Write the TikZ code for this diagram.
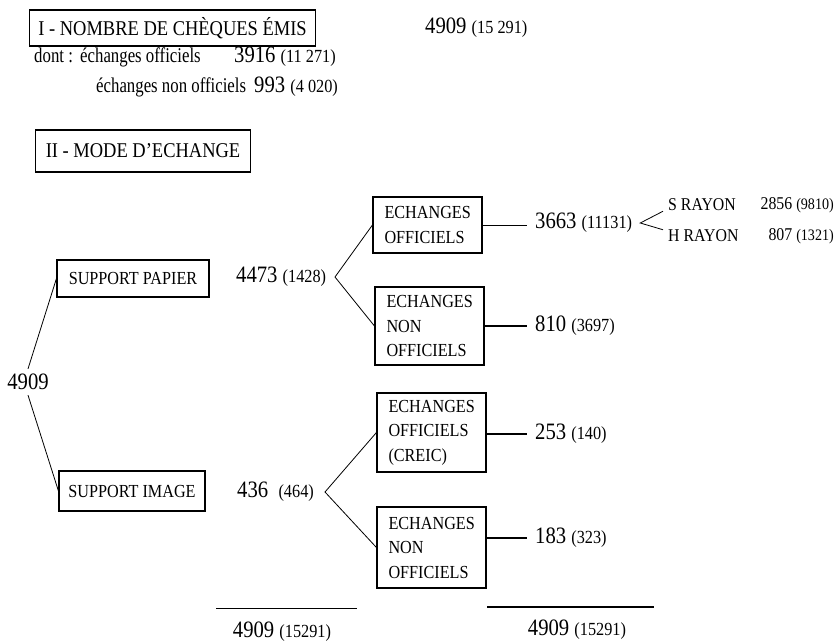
\documentclass[tikz,border=0pt]{standalone}
\usepackage{fontspec}
\setmainfont{Liberation Serif}[FakeStretch=0.88]
\newfontfamily\lowfam{Liberation Serif}[FakeStretch=0.8]
\newcommand{\bigf}{\fontsize{23.5}{26}\selectfont}
\newcommand{\smf}{\fontsize{18.5}{21}\selectfont}
\newcommand{\boxf}{\fontsize{18.4}{24.5}\selectfont}
\newcommand{\hf}{\fontsize{21}{24}\selectfont}
\newcommand{\lowf}{\lowfam\fontsize{21}{24}\selectfont}
\newcommand{\rayf}{\fontsize{18}{21}\selectfont}
\newcommand{\raysf}{\fontsize{16}{18}\selectfont}
\begin{document}
\begin{tikzpicture}[x=1pt,y=-1pt,
  frame/.style={draw, line width=1.1pt, rectangle},
  ebox/.style={frame, inner sep=0pt, font=\boxf, align=left, minimum width=109pt, text width=86pt},
  num/.style={inner xsep=8pt, inner ysep=2pt, font=\bigf},
  txt/.style={inner sep=0pt, anchor=west},
  btxt/.style={inner sep=0pt, anchor=base west},
  conn/.style={line width=0.8pt}]
\useasboundingbox (0,0) rectangle (839,643);

% Part I
\node[frame, anchor=west, inner sep=0pt, minimum width=286pt, minimum height=36pt, font=\hf] (b1) at (29,28) {I - NOMBRE DE CHÈQUES ÉMIS};
\node[txt, font=\bigf] (tot1) at (425,28) {4909 {\smf(15 291)}};
\node[btxt, font=\lowf] (d0) at (34,62) {dont :};
\node[btxt, font=\lowf] (d1) at (80,62) {échanges officiels};
\node[btxt, font=\bigf] (d1n) at (234,62) {3916 {\smf(11 271)}};
\node[btxt, font=\lowf] (d2) at (96,92) {échanges non officiels};
\node[btxt, font=\bigf] (d2n) at (254,92) {993 {\smf(4 020)}};

% Part II
\node[frame, anchor=west, inner sep=0pt, minimum width=215pt, minimum height=42pt, font=\hf] (b2) at (35,151) {II - MODE D'ECHANGE};

\node[font=\bigf, inner xsep=1pt, inner ysep=5pt] (root) at (28,382) {4909};
\node[frame, minimum width=152pt, minimum height=37pt, inner sep=0pt, font=\boxf] (sp) at (133,278.5) {SUPPORT PAPIER};
\node[frame, minimum width=146pt, minimum height=40pt, inner sep=0pt, font=\boxf] (si) at (132,491) {SUPPORT IMAGE};
\draw[conn] (root.north) -- (sp.west);
\draw[conn] (root.south) -- (si.west);

\node[txt, font=\bigf] (v4473) at (236,277) {4473 {\smf(1428)}};
\coordinate (a1) at (335,277);
\node[txt, font=\bigf] (v436) at (237,492) {436 \ {\smf(464)}};
\coordinate (a2) at (325,492);

\node[ebox, minimum height=56pt] (eo) at (427.5,225) {ECHANGES\\OFFICIELS};
\node[ebox, minimum height=78pt] (eno1) at (429.5,326) {ECHANGES\\NON\\OFFICIELS};
\node[ebox, minimum height=79pt] (ecr) at (431.5,432.5) {ECHANGES\\OFFICIELS\\(CREIC)};
\node[ebox, minimum height=81pt] (eno2) at (431.5,547.5) {ECHANGES\\NON\\OFFICIELS};

\draw[conn] (eo.west) -- (a1) -- (eno1.west);
\draw[conn] (ecr.west) -- (a2) -- (eno2.west);

\node[num, anchor=west] (v3663) at (527,223) {3663 {\smf(11131)}};
\node[num, anchor=west] (v810) at (527,326) {810 {\smf(3697)}};
\node[num, anchor=west] (v253) at (527,434) {253 {\smf(140)}};
\node[num, anchor=west] (v183) at (527,538) {183 {\smf(323)}};
\draw[conn] (eo.east) -- (eo.east -| v3663.west);
\draw[conn, line width=1.3pt] (eno1.east) -- (v810.west);
\draw[conn, line width=1.1pt] (ecr.east |- v253.west) -- (v253.west);
\draw[conn, line width=1.1pt] (eno2.east |- v183.west) -- (v183.west);

% rayons
\node[inner xsep=5pt, inner ysep=0pt, anchor=west, font=\rayf] (sr) at (663,205) {S RAYON};
\node[inner xsep=5pt, inner ysep=0pt, anchor=west, font=\rayf] (hr) at (663,236) {H RAYON};
\node[txt, anchor=east, font=\rayf] (srv) at (834,205) {2856 {\raysf(9810)}};
\node[txt, anchor=east, font=\rayf] (hrv) at (834,236) {807 {\raysf(1321)}};
\draw[conn] (sr.south west) -- (v3663.east) -- (hr.north west);

% totals
\coordinate (l1a) at (216,608);
\coordinate (l1b) at (357,608);
\draw[conn] (l1a) -- (l1b);
\node[font=\bigf] (t1) at (282,632) {4909 {\smf(15291)}};
\coordinate (l2a) at (487,607);
\coordinate (l2b) at (654,607);
\draw[line width=1.5pt] (l2a) -- (l2b);
\node[font=\bigf] (t2) at (577,630) {4909 {\smf(15291)}};
\end{tikzpicture}
\end{document}
